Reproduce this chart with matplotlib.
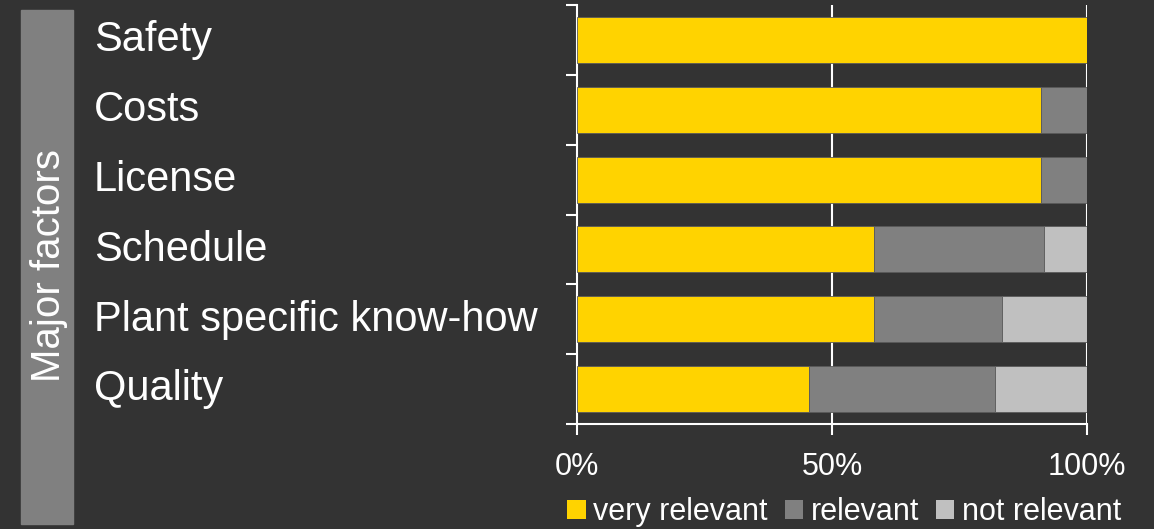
import matplotlib.pyplot as plt
import matplotlib.transforms as mtransforms
import numpy as np

plt.rcParams['font.family'] = ['Liberation Sans', 'DejaVu Sans']

# data (percent of answers)
factors = ['Safety', 'Costs', 'License', 'Schedule', 'Plant specific know-how', 'Quality']
very_relevant = [100, 90.9, 90.9, 58.3, 58.3, 45.5]
relevant = [0, 9.1, 9.1, 33.3, 25.0, 36.4]
not_relevant = [0, 0, 0, 8.3, 16.7, 18.2]
series_names = ['very relevant', 'relevant', 'not relevant']
colors = ['#FFD300', '#808080', '#C0C0C0']
bg = '#333333'

fig = plt.figure(figsize=(11.54, 5.29), dpi=100, facecolor=bg)
ax = fig.add_axes([0.5, 0.1985, 0.442, 0.792])
ax.set_facecolor(bg)

y = np.arange(len(factors))
left = np.zeros(len(factors))
for vals, name, col in zip([very_relevant, relevant, not_relevant], series_names, colors):
    ax.barh(y, vals, left=left, height=0.66, color=col, edgecolor='#5a5a5a',
            linewidth=0.6, label=name, zorder=3)
    left += np.array(vals)

ax.set_xlim(0, 100)
ax.set_ylim(len(factors) - 0.5, -0.5)

# gridlines
for gx in [50, 100]:
    ax.axvline(gx, color='white', lw=1.5, zorder=1)

ax.set_xticks([0, 50, 100])
ax.set_xticklabels(['0%', '50%', '100%'])
ax.set_yticks(np.arange(-0.5, len(factors), 1.0))
ax.set_yticklabels([])
ax.tick_params(axis='x', colors='white', labelsize=22, length=8, width=1.5, pad=12)
ax.tick_params(axis='y', colors='white', length=8, width=1.5)
for s in ['top', 'right']:
    ax.spines[s].set_visible(False)
for s in ['left', 'bottom']:
    ax.spines[s].set_color('white')
    ax.spines[s].set_linewidth(1.5)

# category labels
trans = mtransforms.blended_transform_factory(fig.transFigure, ax.transData)
for i, name in enumerate(factors):
    ax.text(94 / 1154, i - 0.06, name, transform=trans, color='white', fontsize=30,
            ha='left', va='center_baseline', clip_on=False)

# grey band with vertical title
band = plt.Rectangle((21 / 1154, 1 - 524 / 529), 52 / 1154, 514 / 529,
                     transform=fig.transFigure, color='#808080', zorder=0)
fig.patches.append(band)
fig.text(49 / 1154, 1 - 265 / 529, 'Major factors', rotation=90, color='white',
         fontsize=29, ha='center', va='center')

leg = ax.legend(loc='center', bbox_to_anchor=(0.524, -0.21), ncol=3, frameon=False,
                fontsize=22, handlelength=0.6, handleheight=0.6, handletextpad=0.25,
                columnspacing=0.55, borderaxespad=0)
for t in leg.get_texts():
    t.set_color('white')
for h in leg.legend_handles:
    h.set_edgecolor('none')

fig.savefig('out.png', dpi=100, facecolor=bg)
